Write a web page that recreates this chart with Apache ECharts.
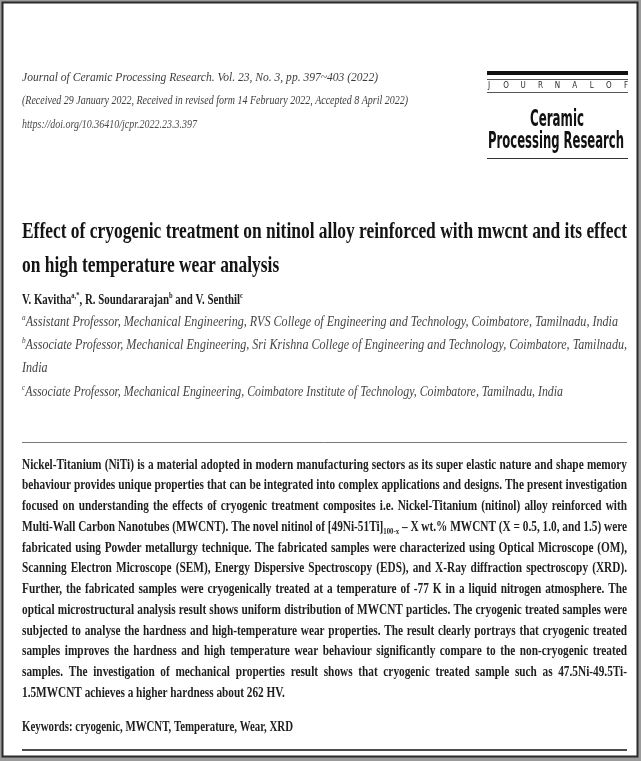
<!DOCTYPE html>
<html><head><meta charset="utf-8">
<script src="https://cdn.jsdelivr.net/npm/echarts@6/dist/echarts.min.js"></script>
<style>html,body{margin:0;padding:0;background:#9b9b9b}#c{width:641px;height:761px}</style>
</head><body><div id="c"></div>
<script>
// ---- content (text only) ----
const headerLines = [
  'Journal of Ceramic Processing Research. Vol. 23, No. 3, pp. 397~403 (2022)',
  '(Received 29 January 2022, Received in revised form 14 February 2022, Accepted 8 April 2022)',
  'https://doi.org/10.36410/jcpr.2022.23.3.397'
];
const logoLetters = ['J','O','U','R','N','A','L','O','F'];
const logoWords = ['Ceramic', 'Processing Research'];
const titleLines = [
  'Effect of cryogenic treatment on nitinol alloy reinforced with mwcnt and its effect',
  'on high temperature wear analysis'
];
const authorLine = 'V. Kavitha^{a,*}, R. Soundararajan^{b} and V. Senthil^{c}';
const affiliationLines = [
  '^{a}Assistant Professor, Mechanical Engineering, RVS College of Engineering and Technology, Coimbatore, Tamilnadu, India',
  '^{b}Associate Professor, Mechanical Engineering, Sri Krishna College of Engineering and Technology, Coimbatore, Tamilnadu,',
  'India',
  '^{c}Associate Professor, Mechanical Engineering, Coimbatore Institute of Technology, Coimbatore, Tamilnadu, India'
];
const abstractLines = [
  'Nickel-Titanium (NiTi) is a material adopted in modern manufacturing sectors as its super elastic nature and shape memory',
  'behaviour provides unique properties that can be integrated into complex applications and designs. The present investigation',
  'focused on understanding the effects of cryogenic treatment composites i.e. Nickel-Titanium (nitinol) alloy reinforced with',
  'Multi-Wall Carbon Nanotubes (MWCNT). The novel nitinol of [49Ni-51Ti]_{100-x} \u2013 X wt.% MWCNT (X = 0.5, 1.0, and 1.5) were',
  'fabricated using Powder metallurgy technique. The fabricated samples were characterized using Optical Microscope (OM),',
  'Scanning Electron Microscope (SEM), Energy Dispersive Spectroscopy (EDS), and X-Ray diffraction spectroscopy (XRD).',
  'Further, the fabricated samples were cryogenically treated at a temperature of -77 K in a liquid nitrogen atmosphere. The',
  'optical microstructural analysis result shows uniform distribution of MWCNT particles. The cryogenic treated samples were',
  'subjected to analyse the hardness and high-temperature wear properties. The result clearly portrays that cryogenic treated',
  'samples improves the hardness and high temperature wear behaviour significantly compare to the non-cryogenic treated',
  'samples. The investigation of mechanical properties result shows that cryogenic treated sample such as 47.5Ni-49.5Ti-',
  '1.5MWCNT achieves a higher hardness about 262 HV.'
];
const keywordLine = 'Keywords: cryogenic, MWCNT, Temperature, Wear, XRD';

// ---- layout helpers ----
const SERIF = '"Liberation Serif","Times New Roman",serif';
const NARROW = '"Liberation Sans Narrow","DejaVu Sans Condensed","Liberation Sans",sans-serif';
const ctx = document.createElement('canvas').getContext('2d');
function fontStr(st, fs, fam) { return (st.italic ? 'italic ' : '') + (st.bold ? 'bold ' : '') + fs + 'px ' + fam; }
function measure(t, font) { ctx.font = font; return ctx.measureText(t).width; }
function parse(str) {
  const out = []; const re = /([\^_])\{([^}]*)\}/g; let last = 0, m;
  while ((m = re.exec(str))) {
    if (m.index > last) out.push({ t: str.slice(last, m.index), k: 'n' });
    out.push({ t: m[2], k: m[1] === '^' ? 'sup' : 'sub' });
    last = re.lastIndex;
  }
  if (last < str.length) out.push({ t: str.slice(last), k: 'n' });
  return out;
}
function pieceFont(p, st) { return fontStr(st, p.k === 'n' ? st.size : +(st.size * 0.6).toFixed(2), st.family); }
function wordWidth(pcs, st) { return pcs.reduce((s, p) => s + measure(p.t, pieceFont(p, st)), 0); }

const els = [];
function emitPieces(pcs, x, y, st, sx) {
  let cx = x;
  pcs.forEach(p => {
    const f = pieceFont(p, st); const w = measure(p.t, f);
    const dy = p.k === 'sup' ? -st.size * 0.32 : p.k === 'sub' ? st.size * 0.3 : 0;
    els.push({ type: 'text', x: cx, y: y + dy, scaleX: sx, silent: true,
      style: { text: p.t, font: f, fill: st.color, textAlign: 'left', align: 'left', textVerticalAlign: 'middle', verticalAlign: 'middle' } });
    cx += w * sx;
  });
  return cx;
}
function fitLine(str, x, y, w, st) {
  const pcs = parse(str); const nat = wordWidth(pcs, st);
  emitPieces(pcs, x, y, st, w / nat);
  return w / nat;
}
function justify(lines, x, y0, dy, w, st) {
  const wl = lines.map(l => l.split(' ').map(parse));
  const nat = wl.map(ws => ws.reduce((s, wd) => s + wordWidth(wd, st), 0));
  const sp = measure(' ', fontStr(st, st.size, st.family));
  const full = wl.map((ws, i) => nat[i] + sp * (ws.length - 1));
  const sx = w / Math.max(...full.slice(0, lines.length - 1));
  wl.forEach((ws, i) => {
    const y = y0 + i * dy;
    const last = i === lines.length - 1;
    const gap = last ? sp * sx : (w - nat[i] * sx) / (ws.length - 1);
    let cx = x;
    ws.forEach(wd => { cx = emitPieces(wd, cx, y, st, sx) + gap; });
  });
}
function hline(x1, x2, y, color, lw) {
  els.push({ type: 'line', silent: true, shape: { x1: x1, y1: y, x2: x2, y2: y }, style: { stroke: color, lineWidth: lw } });
}

// page
els.push({ type: 'rect', silent: true, shape: { x: 2.5, y: 2.5, width: 635, height: 754 }, style: { fill: '#ffffff', stroke: '#2a2a2a', lineWidth: 2 } });

// header
const hdr = { italic: true, size: 13.5, family: SERIF, color: '#3c3c3c' };
fitLine(headerLines[0], 22, 77, 356, hdr);
fitLine(headerLines[1], 22, 101, 386, { italic: true, size: 12.5, family: SERIF, color: '#3c3c3c' });
fitLine(headerLines[2], 22, 125, 175, { italic: true, size: 11.5, family: SERIF, color: '#4a4a4a' });

// logo
els.push({ type: 'rect', silent: true, shape: { x: 487, y: 71, width: 141, height: 4 }, style: { fill: '#111' } });
hline(487, 628, 79.5, '#555', 1);
const lt = { size: 8, family: NARROW, color: '#2a2a2a' };
logoLetters.forEach((c, i) => {
  const cxp = 489 + i * (626 - 489) / (logoLetters.length - 1);
  const w = measure(c, fontStr(lt, lt.size, lt.family));
  emitPieces(parse(c), cxp - w / 2, 86, lt, 1);
});
hline(487, 628, 92.5, '#555', 1);
const lg = { bold: true, size: 23, family: NARROW, color: '#111' };
fitLine(logoWords[0], 530, 120, 54, lg);
fitLine(logoWords[1], 488, 142, 136, lg);
hline(487, 628, 158.5, '#333', 1.2);

// title
const tt = { bold: true, size: 23, family: SERIF, color: '#141414' };
const tsx = fitLine(titleLines[0], 22, 232, 605, tt);
emitPieces(parse(titleLines[1]), 22, 266, tt, tsx);

// authors
fitLine(authorLine, 22, 300, 221, { bold: true, size: 14.5, family: SERIF, color: '#1c1c1c' });

// affiliations
const af = { italic: true, size: 14.5, family: SERIF, color: '#454545' };
const afW = [596, 605, null, 541];
const afY = [322, 345, 368, 392];
const afSx = 596 / wordWidth(parse(affiliationLines[0]), af);
affiliationLines.forEach((l, i) => {
  if (afW[i]) fitLine(l, 22, afY[i], afW[i], af);
  else emitPieces(parse(l), 22, afY[i], af, afSx);
});

hline(22, 627, 442.5, '#777', 1);

// abstract
const ab = { bold: true, size: 14, family: SERIF, color: '#1e1e1e' };
justify(abstractLines, 22, 465, 20.75, 605, ab);

// keywords
fitLine(keywordLine, 22, 727, 271, ab);
hline(22, 627, 750, '#111', 1.5);

const chart = echarts.init(document.getElementById('c'), null, { renderer: 'canvas', width: 641, height: 761 });
chart.setOption({ backgroundColor: '#9b9b9b', animation: false, graphic: { elements: els } });
</script>
</body></html>
